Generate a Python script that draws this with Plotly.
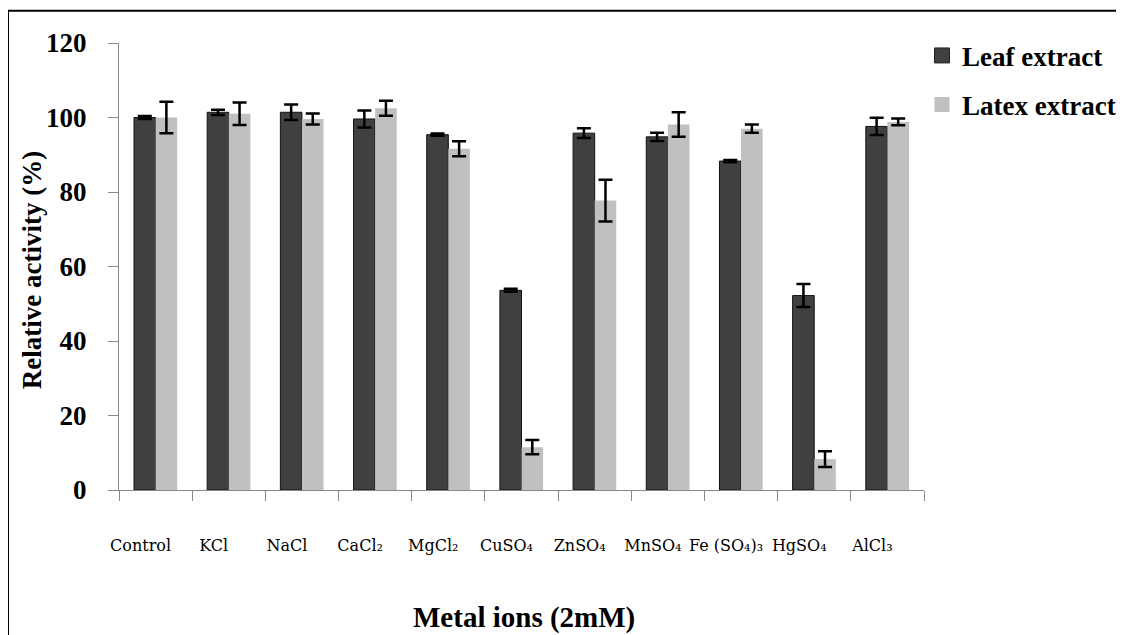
import plotly.graph_objects as go

categories = ["Control", "KCl", "NaCl", "CaCl₂", "MgCl₂", "CuSO₄", "ZnSO₄",
              "MnSO₄", "Fe (SO₄)₃", "HgSO₄", "AlCl₃"]
leaf_values = [100.0, 101.4, 101.4, 99.6, 95.4, 53.6, 95.8, 94.8, 88.3, 52.2, 97.6]
leaf_errors = [0.4, 0.7, 2.1, 2.3, 0.3, 0.4, 1.3, 1.1, 0.3, 3.1, 2.3]
latex_values = [100.0, 101.0, 99.6, 102.5, 91.6, 11.5, 77.7, 98.1, 97.0, 8.3, 98.8]
latex_errors = [4.2, 3.0, 1.5, 2.0, 2.0, 1.9, 5.6, 3.3, 1.1, 2.1, 0.9]
y_ticks = [0, 20, 40, 60, 80, 100, 120]

LEAF_COLOR = "#404040"
LATEX_COLOR = "#c0c0c0"

fig = go.Figure()
fig.add_trace(go.Bar(
    name="Leaf extract", x=categories, y=leaf_values, showlegend=False,
    marker=dict(color=LEAF_COLOR, line=dict(color="#111111", width=1)),
    error_y=dict(type="data", array=leaf_errors, color="black", thickness=2.5, width=7),
))
fig.add_trace(go.Bar(
    name="Latex extract", x=categories, y=latex_values, showlegend=False,
    marker=dict(color=LATEX_COLOR, line=dict(width=0)),
    error_y=dict(type="data", array=latex_errors, color="black", thickness=2.5, width=7),
))
# legend entries with larger square swatches
fig.add_trace(go.Scatter(
    name="Leaf extract", x=[None], y=[None], mode="markers", legendgroup="a",
    marker=dict(symbol="square", size=15, color=LEAF_COLOR, line=dict(color="#222222", width=1)),
))
fig.add_trace(go.Scatter(
    name="Latex extract", x=[None], y=[None], mode="markers", legendgroup="b",
    marker=dict(symbol="square", size=15, color=LATEX_COLOR, line=dict(width=0)),
))

# the page body adds an 8px offset; margins compensate for it
fig.update_layout(
    width=1124, height=635,
    margin=dict(l=111, r=208, t=35, b=153, autoexpand=False),
    paper_bgcolor="white", plot_bgcolor="white",
    barmode="group", bargap=0.41, bargroupgap=0,
    showlegend=True,
    legend=dict(x=0.9975, xanchor="left", y=1.026, yanchor="top",
                font=dict(family="Liberation Serif", size=27, color="black", weight="bold"),
                tracegroupgap=11, traceorder="grouped", bgcolor="rgba(0,0,0,0)"),
    font=dict(family="Liberation Serif", color="black"),
)
fig.update_xaxes(
    type="category", showline=True, linecolor="#888888", linewidth=1.2,
    ticks="outside", tickson="boundaries", ticklen=10, tickcolor="#888888",
    tickfont=dict(family="DejaVu Serif", size=16, color="black"),
    tickangle=0, automargin=False,
    ticklabelstandoff=41, ticklabelshift=-15, showgrid=False, zeroline=False,
)
fig.update_yaxes(
    range=[0, 120], tickvals=y_ticks, showline=True, linecolor="#888888", linewidth=1.2,
    ticks="outside", ticklen=10, tickcolor="#888888", automargin=False,
    tickfont=dict(family="Liberation Serif", size=27, color="black", weight="bold"),
    ticklabelstandoff=16, showgrid=False, zeroline=False,
)
fig.add_annotation(text="Relative activity (%)", xref="paper", yref="paper",
                   x=-0.108, y=0.492, xanchor="center", yanchor="middle", textangle=-90,
                   showarrow=False,
                   font=dict(family="Liberation Serif", size=27, color="black", weight="bold"))
fig.add_annotation(text="Metal ions (2mM)", xref="paper", yref="paper",
                   x=0.503, y=-0.285, xanchor="center", yanchor="middle", showarrow=False,
                   font=dict(family="Liberation Serif", size=29, color="black", weight="bold"))
# outer frame
fig.add_shape(type="line", xref="paper", yref="paper", x0=-0.1379, x1=-0.1379,
              y0=1.0723, y1=-0.4, line=dict(color="black", width=2))
fig.add_shape(type="line", xref="paper", yref="paper", x0=-0.1379, x1=1.3,
              y0=1.0723, y1=1.0723, line=dict(color="black", width=2))

fig.write_html("out.html")
